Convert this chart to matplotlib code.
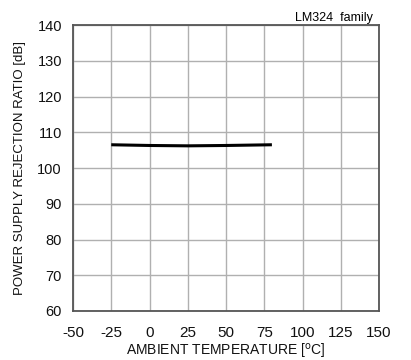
import matplotlib
matplotlib.use("Agg")
import matplotlib.pyplot as plt

temps = [-25, 0, 25, 50, 80]
psrr = [106.5, 106.3, 106.2, 106.3, 106.5]
xticks = [-50, -25, 0, 25, 50, 75, 100, 125, 150]
yticks = [60, 70, 80, 90, 100, 110, 120, 130, 140]

plt.rcParams['font.family'] = ['Liberation Sans', 'DejaVu Sans']
plt.rcParams['axes.unicode_minus'] = False
fig = plt.figure(figsize=(4.11, 3.6), dpi=100)
ax = fig.add_axes([73/411, 1-311/360, 306/411, 286/360])
ax.plot(temps, psrr, color='black', lw=2.2, solid_capstyle='butt')
ax.set_xlim(-50, 150)
ax.set_ylim(60, 140)
ax.set_xticks(xticks)
ax.set_xticklabels([str(v) for v in xticks])
ax.set_yticks(yticks)
ax.set_yticklabels([str(v) for v in yticks])
ax.tick_params(axis='x', length=0, labelsize=11, pad=11, colors='#111111')
ax.tick_params(axis='y', length=0, labelsize=10.5, pad=8, colors='#111111')
ax.grid(True, color='#b0b0b0', lw=1)
for s in ax.spines.values():
    s.set_color('#555555')
    s.set_linewidth(1.3)
ax.set_xlabel('AMBIENT TEMPERATURE [$^{\\rm o}$C]', fontsize=10, labelpad=1, color='#111111')
ax.set_ylabel('POWER SUPPLY REJECTION RATIO [dB]', fontsize=9.5, labelpad=8, color='#111111')
ax.text(0.98, 1.003, 'LM324  family', transform=ax.transAxes, ha='right', va='bottom', fontsize=9)
fig.savefig('out.png', dpi=100)
